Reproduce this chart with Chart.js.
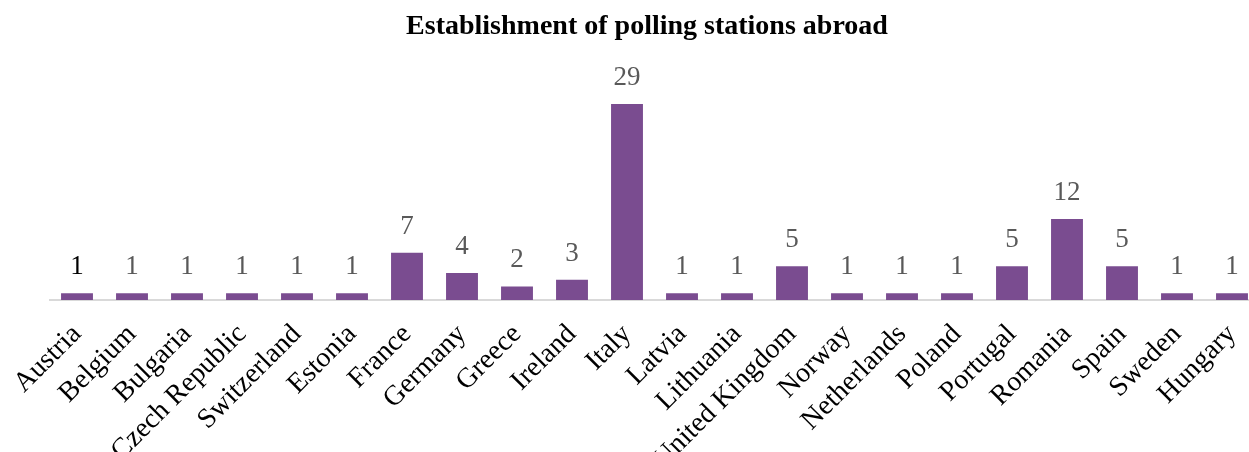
<!DOCTYPE html>
<html>
<head>
<meta charset="utf-8">
<script src="https://cdn.jsdelivr.net/npm/chart.js@4.4.1/dist/chart.umd.min.js"></script>
<style>
  html, body { margin: 0; padding: 0; background: #ffffff; overflow: hidden; }
  #wrap { width: 1249px; height: 452px; overflow: hidden; position: relative; }
  canvas { display: block; }
</style>
</head>
<body>
<div id="wrap"><canvas id="chart" width="1262" height="452"></canvas></div>
<script>
const countries = [
  'Austria', 'Belgium', 'Bulgaria', 'Czech Republic', 'Switzerland', 'Estonia',
  'France', 'Germany', 'Greece', 'Ireland', 'Italy', 'Latvia', 'Lithuania',
  'United Kingdom', 'Norway', 'Netherlands', 'Poland', 'Portugal', 'Romania',
  'Spain', 'Sweden', 'Hungary'
];
const stations = [1, 1, 1, 1, 1, 1, 7, 4, 2, 3, 29, 1, 1, 5, 1, 1, 1, 5, 12, 5, 1, 1];
const chartTitle = 'Establishment of polling stations abroad';

const SERIF = '"Liberation Serif", "DejaVu Serif", serif';
const BAR_COLOR = '#7A4C90';
const AXIS_BOTTOM = 300;
const PLOT_TOP = 77;

// Chart heading, centred over the whole figure
const heading = {
  id: 'heading',
  afterDraw(chart) {
    const ctx = chart.ctx;
    ctx.save();
    ctx.font = 'bold 28px ' + SERIF;
    ctx.fillStyle = '#000000';
    ctx.textAlign = 'center';
    ctx.textBaseline = 'middle';
    ctx.fillText(chartTitle, 647, 27);
    ctx.restore();
  }
};

// Value labels printed above every bar
const valueLabels = {
  id: 'valueLabels',
  afterDatasetsDraw(chart) {
    const ctx = chart.ctx;
    const meta = chart.getDatasetMeta(0);
    ctx.save();
    ctx.font = '27px ' + SERIF;
    ctx.textAlign = 'center';
    ctx.textBaseline = 'alphabetic';
    meta.data.forEach((bar, i) => {
      ctx.fillStyle = i === 0 ? '#000000' : '#595959';
      ctx.fillText(String(stations[i]), bar.x, bar.y - 19);
    });
    ctx.restore();
  }
};

new Chart(document.getElementById('chart'), {
  type: 'bar',
  data: {
    labels: countries,
    datasets: [{
      data: stations,
      backgroundColor: BAR_COLOR,
      borderWidth: 0,
      barPercentage: 0.58,
      categoryPercentage: 1.0
    }]
  },
  options: {
    responsive: false,
    animation: false,
    devicePixelRatio: 1,
    layout: { padding: { left: 49.5, right: 2.5, top: PLOT_TOP, bottom: 0 } },
    plugins: {
      legend: { display: false },
      tooltip: { enabled: false },
      title: { display: false }
    },
    scales: {
      x: {
        grid: { display: false, drawTicks: false },
        border: { display: true, color: '#D9D9D9', width: 2 },
        ticks: {
          color: '#000000',
          font: { family: SERIF, size: 28 },
          minRotation: 45,
          maxRotation: 45,
          autoSkip: false,
          padding: 18
        },
        afterFit(scale) {
          scale.height = 452 - AXIS_BOTTOM;
          scale.paddingLeft = 0;
          scale.paddingRight = 0;
        }
      },
      y: {
        display: false,
        min: 0,
        max: 33
      }
    }
  },
  plugins: [valueLabels, heading]
});
</script>
</body>
</html>
